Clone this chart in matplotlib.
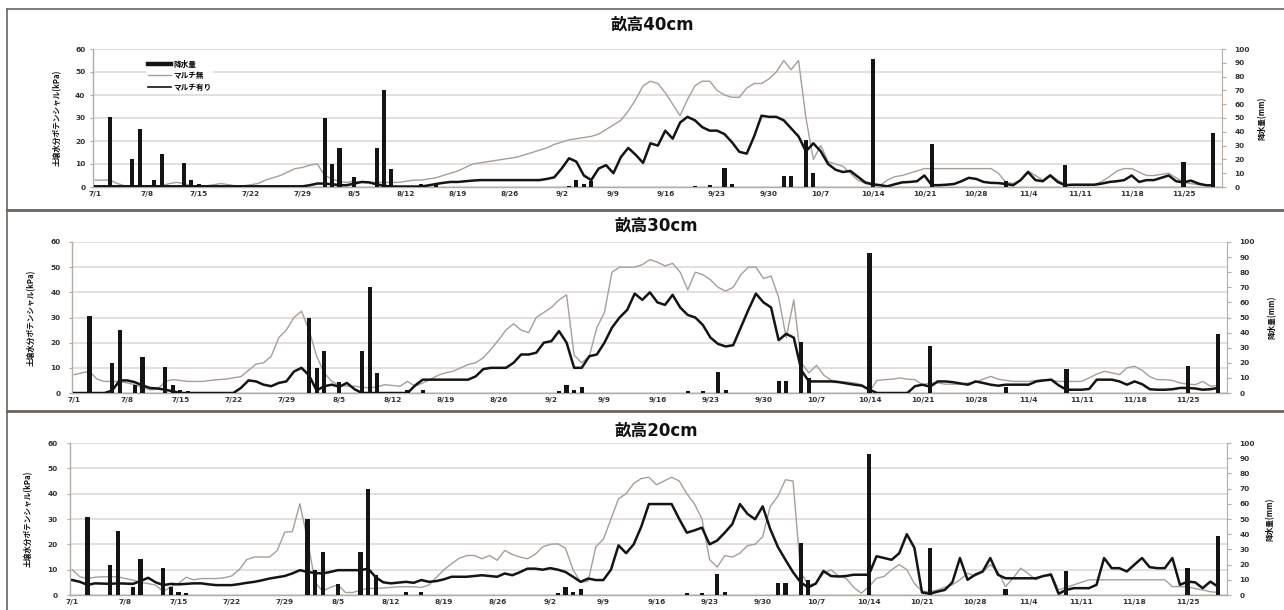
import datetime as dt
import matplotlib
matplotlib.use("Agg")
import matplotlib.pyplot as plt
from matplotlib.lines import Line2D

plt.rcParams['font.family'] = ['DejaVu Sans', 'Noto Sans CJK JP']

# ---------------- data ----------------
start_date = "7/1"
n_days = 152  # 7/1 .. 11/29

tick_labels = ["7/1", "7/8", "7/15", "7/22", "7/29", "8/5", "8/12", "8/19", "8/26",
               "9/2", "9/9", "9/16", "9/23", "9/30", "10/7", "10/14", "10/21",
               "10/28", "11/4", "11/11", "11/18", "11/25"]

rain_dates = ["7/3", "7/6", "7/7", "7/9", "7/10", "7/13", "7/14", "7/15", "7/16",
              "8/1", "8/2", "8/3", "8/5", "8/8", "8/9", "8/10", "8/14", "8/16",
              "9/3", "9/4", "9/5", "9/6", "9/20", "9/22", "9/24", "9/25",
              "10/2", "10/3", "10/5", "10/6", "10/14", "10/22", "11/1", "11/9",
              "11/25", "11/29"]
rain_mm = [51, 20, 42, 5, 24, 17.5, 5, 2, 1,
           50, 16.5, 28, 7, 28, 70, 13, 2, 2,
           1, 5, 2, 4, 1, 1.5, 14, 2,
           8, 8, 34, 10, 93, 31, 4, 16,
           18, 39]

# soil water potential (kPa), daily from 7/1
mulch_none_40 = [3, 3, 3, 1.5, 0.5, 0.5, 0.5,
                 0.5, 0.5, 0.5, 1.5, 2, 1.5, 0.5,
                 0.5, 0.5, 1, 1.5, 1, 0.5, 0.5,
                 1, 1.5, 3, 4, 5, 6.5, 8,
                 8.5, 9.5, 10, 5, 3.5, 2.5, 2,
                 2.5, 2, 2, 2, 2, 2, 2,
                 2.5, 3, 3, 3.5, 4, 5, 6,
                 7, 8.5, 10, 10.5, 11, 11.5, 12,
                 12.5, 13, 14, 15, 16, 17, 18.5,
                 19.5, 20.5, 21, 21.5, 22, 23, 25,
                 27, 29, 33, 38, 44, 46, 45,
                 41, 36, 31, 38, 44, 46, 46,
                 42, 40, 39, 39, 43, 45, 45,
                 47, 50, 55, 51, 55, 30, 12,
                 18, 11, 10, 9, 6, 3, 1.5,
                 0.7, 0.7, 3, 4.5, 5, 6, 7,
                 8, 8, 8, 8, 8, 8, 8,
                 8, 8, 8, 6, 2, 1.5, 3,
                 7, 5, 3, 5.5, 3, 1, 1,
                 1, 1, 1, 2.5, 4.5, 7, 8,
                 8, 6.5, 5, 5, 5.5, 6, 4,
                 2, 1.5, 1, 0.7, 0.7]
mulch_with_40 = [0.3, 0.3, 0.3, 0.3, 0.3, 0.3, 0.3,
                 0.3, 0.3, 0.3, 0.3, 0.3, 0.3, 0.3,
                 0.3, 0.3, 0.3, 0.3, 0.3, 0.3, 0.3,
                 0.3, 0.3, 0.3, 0.3, 0.3, 0.3, 0.3,
                 0.3, 0.8, 1.5, 1.5, 1.2, 0.8, 0.8,
                 1.5, 2.2, 2, 1.2, 0.5, 0.2, 0.2,
                 0.2, 0.2, 0.2, 0.7, 1.3, 1.8, 2.2,
                 2.2, 2.5, 2.8, 3, 3, 3, 3,
                 3, 3, 3, 3, 3, 3.5, 4.2,
                 8, 12.5, 11, 5, 3, 8, 9.5,
                 6, 13, 17, 14, 10.5, 19, 18,
                 24.5, 21, 28, 30.5, 29, 26, 24.5,
                 24.5, 23, 19.5, 15.3, 14.5, 22, 31,
                 30.5, 30.5, 29, 25.5, 22, 15.5, 19,
                 15.5, 10, 7.5, 6.5, 7, 4.5, 2,
                 1.2, 0.8, 0.3, 1.2, 2, 2.2, 2.5,
                 5, 0.8, 0.8, 1, 1.3, 2.5, 4,
                 3.5, 2.2, 1.8, 1.7, 1.3, 0.8, 3,
                 6.5, 3, 2.5, 5, 2.2, 0.8, 1,
                 1, 1, 1, 1.5, 2.2, 2.5, 3,
                 5, 2.2, 3, 3, 4, 5, 2.5,
                 2, 2.8, 1.5, 0.8, 0.7]

mulch_none_30 = [7.3, 8, 8.6, 5.5, 4.6, 4.6, 4.6,
                 4, 3.3, 2, 1.3, 1.5, 4.6, 5.3,
                 5, 4.6, 4.6, 4.6, 5, 5.3, 5.5,
                 6, 6.5, 9, 11.5, 12, 14.6, 22,
                 25, 30, 32.5, 25, 14.6, 8, 4.6,
                 3, 2.7, 2.7, 2.3, 2, 2.5, 3.3,
                 3, 2.7, 4.6, 2.7, 4, 5.3, 7,
                 8, 8.6, 10, 11.3, 12, 14, 17.3,
                 21, 25, 27.5, 25, 24, 30, 32,
                 34, 37, 39, 15, 12, 14.6, 26,
                 32, 48, 50, 50, 50, 51, 53,
                 52, 50.5, 51.5, 48, 41, 48, 47,
                 45, 42, 40.5, 42, 47, 50, 50,
                 45.5, 46.5, 38, 22, 37, 12, 8,
                 11, 7, 5, 4.6, 4.3, 4, 3.3,
                 0.7, 5, 5.3, 5.5, 6, 5.5, 5.3,
                 3.3, 4, 4, 3.5, 3.5, 3.5, 4,
                 4.2, 5.5, 6.6, 5.5, 5, 4.6, 4.6,
                 4.6, 5, 5.3, 5, 4.6, 4.6, 4.6,
                 4.6, 6, 7.5, 8.6, 8, 7.3, 10,
                 10.6, 9, 6.5, 5.3, 5.3, 5, 4,
                 3.5, 3.3, 4.6, 2.7, 3]
mulch_with_30 = [0, 0, 0, 0, 0, 1, 5,
                 5, 4.3, 3, 2, 1.8, 1.3, 0.7,
                 0, 0, 0, 0, 0, 0, 0,
                 0, 2, 5, 4.6, 3.3, 2.7, 4,
                 4.6, 8.5, 10, 7, 1, 2.7, 3.3,
                 2.5, 4, 1.5, 0, 0, 0, 0,
                 0, 0, 0, 3, 5.3, 5.3, 5.3,
                 5.3, 5.3, 5.3, 5.3, 6.6, 9.5, 10,
                 10, 10, 12, 15.3, 15.3, 16, 20,
                 20.6, 24.6, 20, 10, 10, 14.6, 15.3,
                 20, 26, 30, 33, 39.5, 37, 40,
                 36, 35, 39, 34, 31, 30, 27,
                 22, 19.5, 18.5, 19, 26, 33, 39.5,
                 36, 34, 21, 23.5, 22, 9, 4.6,
                 4.6, 4.6, 4.6, 4.3, 3.8, 3.3, 2.9,
                 1.3, 0, 0, 0, 0, 0, 2.7,
                 3.3, 2.5, 4.6, 4.6, 4.3, 3.8, 3.3,
                 4.6, 4, 3.3, 2.9, 3.3, 3.3, 3.3,
                 3.3, 4.6, 5, 5.3, 3, 1.3, 1.3,
                 1.3, 1.6, 5.3, 5.3, 5.3, 4.6, 3.3,
                 4.6, 3.5, 1.5, 1.3, 1.3, 1.5, 2,
                 2, 1.8, 1.3, 1.5, 2]

mulch_none_20 = [10, 7.2, 6.5, 7, 7.2, 7.2, 7.2,
                 6.5, 5.9, 5, 4.5, 3.9, 1.3, 3.3,
                 4.6, 7, 6, 6.5, 6.5, 6.5, 6.8,
                 7.5, 10, 14, 15, 15, 15, 17.5,
                 24.8, 25, 36, 22, 5, 1.5, 3,
                 4, 1, 1, 2, 2.6, 2.6, 2.8,
                 3, 3.2, 3.3, 3.2, 3, 3.9, 7,
                 10, 12.4, 14.5, 15.6, 15.6, 14.3, 15.6,
                 13.7, 17.6, 16, 15, 14.3, 16, 19,
                 20, 20.2, 18.5, 10, 5, 5.5, 19,
                 22, 30, 38, 40, 44, 46, 46.5,
                 43.5, 45, 46.5, 45, 40, 36, 30,
                 14, 11, 15.5, 15, 16.5, 19.5, 20,
                 23, 35, 39, 45.5, 45, 9, 4,
                 4.5, 8.5, 10, 7.5, 6.6, 3, 0.7,
                 3.3, 6.6, 7.3, 10, 12, 10, 4.5,
                 1.5, 1.3, 2, 3, 4, 6, 8.6,
                 7.5, 9, 12, 9.3, 3.3, 6.6, 10.6,
                 8.5, 6, 7.5, 8.6, 2, 3, 4,
                 5, 6, 6, 6, 6, 6, 6,
                 6, 6, 6, 6, 6, 3.3, 3.3,
                 3.3, 2.5, 2, 1.3, 1]
mulch_with_20 = [5.9, 5.2, 4, 4.6, 4.5, 4.4, 4.6,
                 4.5, 4.4, 5.5, 6.8, 5, 3.9, 4.4,
                 4.2, 4.4, 4.6, 4.6, 4.2, 3.9, 3.9,
                 3.9, 4.3, 4.8, 5.2, 5.8, 6.5, 7,
                 7.5, 8.5, 9.8, 9.1, 8.7, 8.5, 9.1,
                 9.8, 9.8, 9.8, 9.8, 10.4, 7, 5,
                 4.6, 4.9, 5.2, 4.8, 5.9, 5.2, 5.5,
                 6.2, 7.2, 7.2, 7.2, 7.5, 7.8, 7.5,
                 7.2, 8.5, 7.8, 9, 10.4, 10.4, 10,
                 10.6, 10, 9.1, 7.2, 5.2, 6.5, 5.9,
                 5.9, 10, 19.6, 16.5, 20, 27, 35.9,
                 35.9, 35.9, 35.9, 30, 24.6, 25.5, 26.6,
                 20, 21.5, 24.6, 28, 35.9, 32, 29.9,
                 35, 26, 19, 13.9, 9, 5, 3,
                 4.5, 9.5, 7.5, 7.3, 7.5, 8, 8,
                 8, 15.3, 14.6, 13.9, 16.5, 24, 18.6,
                 1, 0.5, 1.3, 2, 5, 14.6, 6,
                 8, 9.3, 14.6, 8, 6.6, 6.6, 6.6,
                 6.6, 6.6, 7.5, 8, 0.5, 2, 2.7,
                 2.7, 2.7, 4, 14.6, 10.6, 10.6, 9.3,
                 12, 14.6, 11, 10.6, 10.6, 14.6, 4,
                 5.3, 5, 2.7, 5.3, 3.3]

titles = ["畝高40cm", "畝高30cm", "畝高20cm"]
legend_labels = ["降水量", "マルチ無", "マルチ有り"]
ylabel_left = "土壌水分ポテンシャル(kPa)"
ylabel_right = "降水量(mm)"

# ---------------- helpers ----------------
def day_index(s):
    m, d = map(int, s.split("/"))
    m0, d0 = map(int, start_date.split("/"))
    return (dt.date(2001, m, d) - dt.date(2001, m0, d0)).days

days = list(range(n_days))
tick_pos = [day_index(s) for s in tick_labels]
rain_x = [day_index(s) for s in rain_dates]

W, H = 1284, 610
fig = plt.figure(figsize=(W / 100, H / 100), dpi=100)
fig.patch.set_facecolor("white")

GRAY = "#a69e9a"
BLACK = "#141414"
AXC = "#b3aba4"
GRIDC = "#ddd6cf"
FS = 5.3
CJK = ['Noto Sans CJK JP', 'DejaVu Sans']

layout = [
    dict(x0=93, x1=1222, y60=49, y0=187, title=(652, 25), ylx=57, yrx=1262, lpad=7.5),
    dict(x0=72, x1=1227, y60=242, y0=393, title=(656, 226), ylx=31, yrx=1272, lpad=10),
    dict(x0=70, x1=1227, y60=443, y0=595, title=(656, 431), ylx=28, yrx=1270, lpad=11),
]
series = [(mulch_none_40, mulch_with_40), (mulch_none_30, mulch_with_30),
          (mulch_none_20, mulch_with_20)]

for i, (L, (gser, bser)) in enumerate(zip(layout, series)):
    rect = [L["x0"] / W, 1 - L["y0"] / H, (L["x1"] - L["x0"]) / W,
            (L["y0"] - L["y60"]) / H]
    ax = fig.add_axes(rect)
    ax.set_xlim(-0.3, 152.2)
    ax.set_ylim(0, 60)
    ax.set_yticks(range(0, 61, 10))
    ax.grid(axis="y", color=GRIDC, lw=1.1)
    ax.set_axisbelow(True)
    ax.plot(days, gser, color=GRAY, lw=1.0, zorder=2, label=legend_labels[1])
    ax.plot(days, bser, color=BLACK, lw=1.8, zorder=3, label=legend_labels[2])
    ax.set_xticks(tick_pos)
    ax.set_xticklabels(tick_labels)
    ax.tick_params(axis="x", length=0, pad=3, labelsize=FS, colors="#333333")
    ax.tick_params(axis="y", length=2, pad=L["lpad"] - 4, labelsize=FS,
                   colors="#333333", color=AXC)
    for lab in ax.get_xticklabels() + ax.get_yticklabels():
        lab.set_fontweight("bold")
    for s in ("top", "right"):
        ax.spines[s].set_visible(False)
    for s in ("left", "bottom"):
        ax.spines[s].set_color(AXC)
        ax.spines[s].set_linewidth(1.0)

    ax2 = ax.twinx()
    ax2.set_ylim(0, 100)
    ax2.set_yticks(range(0, 101, 10))
    ax2.bar(rain_x, rain_mm, width=0.55, color=BLACK, zorder=4)
    for s in ("top", "left", "bottom"):
        ax2.spines[s].set_visible(False)
    ax2.spines["right"].set_color(AXC)
    ax2.tick_params(axis="y", length=3, pad=6, labelsize=FS, colors="#333333",
                    color=AXC)
    for lab in ax2.get_yticklabels():
        lab.set_fontweight("bold")

    tx, ty = L["title"]
    fig.text(tx / W, 1 - ty / H, titles[i], ha="center", va="center",
             fontsize=12, fontweight="bold", color="#111111")
    yc = 1 - (L["y0"] + L["y60"]) / 2 / H
    fig.text(L["ylx"] / W, yc, ylabel_left, rotation=90, ha="center",
             va="center", fontsize=5.5, fontweight="bold", color="#111111",
             family=CJK)
    fig.text(L["yrx"] / W, yc, ylabel_right, rotation=90, ha="center",
             va="center", fontsize=5.5, fontweight="bold", color="#111111",
             family=CJK)

    if i == 0:
        handles = [Line2D([], [], color=BLACK, lw=3.2),
                   Line2D([], [], color=GRAY, lw=1.0),
                   Line2D([], [], color=BLACK, lw=1.2)]
        leg = ax.legend(handles, legend_labels, loc="upper left",
                        bbox_to_anchor=(0.047, 0.935),
                        prop=dict(family=CJK, size=5.5, weight="bold"),
                        frameon=True, facecolor="white", edgecolor="none",
                        framealpha=1, handlelength=3.0, handletextpad=0.4,
                        labelspacing=0.35, borderpad=0.2, borderaxespad=0)

# panel frames
FRAME = "#6c645e"
def fline(x0, y0, x1, y1, lw):
    fig.add_artist(Line2D([x0 / W, x1 / W], [1 - y0 / H, 1 - y1 / H],
                          transform=fig.transFigure, color=FRAME, lw=lw))

fline(7, 9, W, 9, 1.2)
fline(7, 9, 7, H, 1.2)
fline(7, 210, W, 210, 2.0)
fline(7, 411, W, 411, 2.0)

fig.savefig("out.png", dpi=100, facecolor="white")
